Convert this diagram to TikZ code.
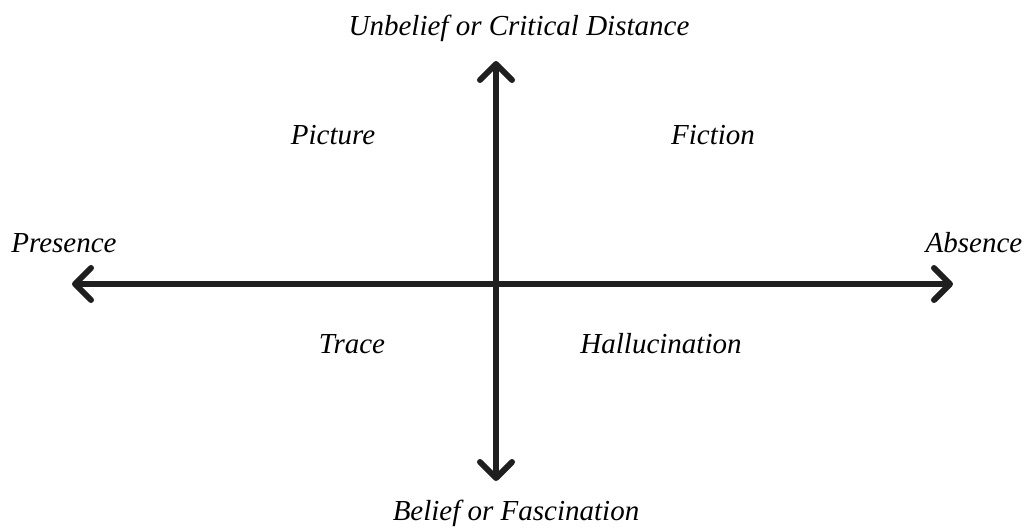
\documentclass[tikz,border=0pt]{standalone}
\usepackage{fontspec}
\setmainfont{Liberation Serif}
\usetikzlibrary{arrows.meta}
\begin{document}
\begin{tikzpicture}[x=1pt,y=-1pt,
  lbl/.style={font=\fontsize{29}{34}\selectfont\itshape, anchor=base, inner sep=0pt},
  axis/.style={line width=5.5pt, {Straight Barb[length=16pt,width=32pt,line width=6pt,line cap=round,round]}-{Straight Barb[length=16pt,width=32pt,line width=6pt,line cap=round,round]}, color=black!88}]
\useasboundingbox (0,0) rectangle (1026,530);
\coordinate (L) at (72,284);
\coordinate (R) at (953,284);
\coordinate (T) at (496,61);
\coordinate (B) at (496,481);
\draw[axis] (L) -- (R);
\draw[axis] (T) -- (B);
\node[lbl] (unbelief) at (519,35) {Unbelief or Critical Distance};
\node[lbl] (belief) at (516,520) {Belief or Fascination};
\node[lbl] (presence) at (64,252) {Presence};
\node[lbl] (absence) at (974,252) {Absence};
\node[lbl] (picture) at (333,144) {Picture};
\node[lbl] (fiction) at (713,144) {Fiction};
\node[lbl] (trace) at (352,353) {Trace};
\node[lbl] (halluc) at (661,353) {Hallucination};
\end{tikzpicture}
\end{document}
